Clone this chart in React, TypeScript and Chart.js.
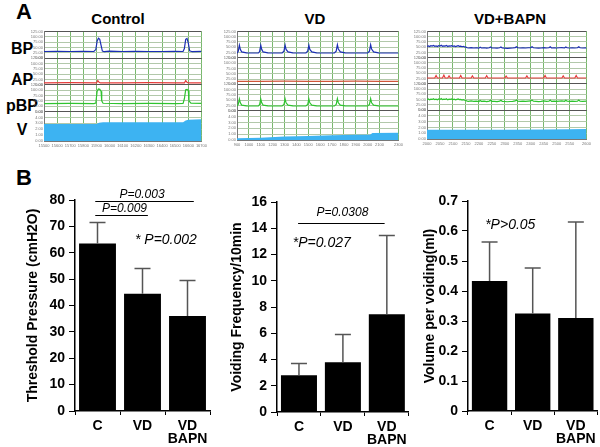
import React, { useEffect, useRef } from "react";
import { Chart, registerables } from "chart.js";
Chart.register(...registerables);

// ---------- Panel A trace data ([time, value]) ----------
const ctrlBP = [[0,31],[10,32],[20,31],[30,32],[38,31],[39.5,40],[40.5,80],[41.5,93],[42.5,88],[43.5,60],[44.5,33],[46,30],[50,33],[60,31],[70,32],[80,31],[90,31],[100,32],[106,31],[107,45],[108,88],[109,92],[110,70],[111,34],[113,30],[120,32]];
const ctrlAP = [[0,9],[20,10],[40,9],[41,20],[42,12],[43,9],[60,9],[80,10],[100,9],[107,9],[108,20],[109,12],[110,9],[120,9]];
const ctrlPBP = [[0,37],[20,38],[38,37],[39.5,40],[40.5,95],[41.5,106],[42.5,104],[43.5,95],[44,50],[45,39],[60,37],[80,38],[100,37],[106,38],[107,60],[108,102],[109,104],[110,98],[110.5,50],[112,40],[120,38]];
const ctrlV = [[0,2.9],[40,2.9],[42,3.1],[45,3.2],[106,3.2],[108,3.5],[110,3.6],[120,3.7]];

const vdBP = [[0,23],[1,30],[2,60],[2.8,40],[4,28],[8,24],[18,23],[19,30],[20,60],[20.8,40],[22,28],[26,24],[38,23],[39.5,32],[40.5,60],[41.3,40],[43,28],[47,24],[58,23],[59.5,32],[60.5,60],[61.3,40],[63,28],[67,24],[82,23],[83.5,32],[84.5,62],[85.3,42],[87,28],[91,24],[110,23],[111.5,32],[112.5,62],[113.3,42],[115,28],[119,24],[136,23]];
const vdAP = [[0,14],[20,14],[40,15],[60,14],[80,14],[100,15],[120,14],[136,14]];
const vdPBP = [[0,23],[1,30],[2,56],[2.8,38],[4,27],[8,24],[18,23],[19,30],[20,56],[20.8,38],[22,27],[26,24],[38,23],[39.5,30],[40.5,56],[41.3,38],[43,27],[47,24],[58,23],[59.5,30],[60.5,56],[61.3,38],[63,27],[67,24],[82,23],[83.5,30],[84.5,58],[85.3,38],[87,27],[91,24],[110,23],[111.5,30],[112.5,58],[113.3,38],[115,27],[119,24],[136,23]];
const vdV = [[0,0.3],[20,0.4],[40,0.6],[60,0.7],[80,0.8],[100,0.9],[112,0.9],[114,1.2],[136,1.25]];

const bapnBP = [[0,54],[1,56],[2,53],[3,57],[4,55],[5,58],[6,54],[7,56],[8,53],[9,57],[10,55],[11,59],[12,54],[13,56],[14,55],[15,58],[16,53],[17,56],[18,55],[19,57],[20,54],[21,56],[22,53],[23,55],[24,57],[25,54],[26,55],[27,52],[28,54],[29,51],[30,50],[31,47],[32,46],[34,48],[36,46],[38,47],[40,45],[41,50],[42,46],[44,47],[46,45],[48,47],[49,51],[50,46],[52,46],[54,45],[56,47],[57,51],[58,46],[60,45],[62,44],[64,45],[66,46],[68,48],[69,52],[70,47],[72,46],[74,47],[76,46],[78,47],[80,48],[81,52],[82,47],[84,46],[86,45],[88,46],[90,48],[92,46],[94,47],[95,52],[96,46],[98,47],[100,46],[102,47],[104,48],[106,46],[107,51],[108,47],[110,46],[112,47],[114,46],[116,47],[117,52],[118,47],[120,46],[123,47]];
const bapnAP = [[0,28],[6,28],[7,40],[8,28],[12,29],[13,42],[14,28],[16,28],[17,38],[18,28],[25,28],[26,40],[27,28],[34,28],[35,38],[36,28],[45,28],[46,39],[47,28],[60,28],[61,37],[62,28],[76,28],[77,38],[78,28],[90,29],[91,40],[92,28],[104,28],[105,38],[106,28],[114,28],[115,40],[116,28],[123,28]];
const bapnPBP = [[0,50],[1,53],[2,49],[3,52],[4,51],[5,54],[6,50],[7,52],[8,49],[9,53],[10,51],[11,55],[12,50],[13,52],[14,51],[15,54],[16,49],[17,52],[18,51],[19,53],[20,50],[21,52],[22,49],[23,51],[24,53],[25,50],[26,51],[27,48],[28,50],[29,47],[30,46],[31,43],[32,42],[34,44],[36,42],[38,43],[40,41],[41,46],[42,42],[44,43],[46,41],[48,43],[49,47],[50,42],[52,42],[54,41],[56,43],[57,47],[58,42],[60,41],[62,40],[64,41],[66,42],[68,44],[69,48],[70,43],[72,42],[74,43],[76,42],[78,43],[80,44],[81,48],[82,43],[84,42],[86,41],[88,42],[90,44],[92,42],[94,43],[95,48],[96,42],[98,43],[100,42],[102,43],[104,44],[106,42],[107,47],[108,43],[110,42],[112,43],[114,42],[116,43],[117,48],[118,43],[120,42],[123,43]];
const bapnV = [[0,1.6],[30,1.6],[60,1.6],[90,1.65],[110,1.7],[123,1.72]];

const ctrlXTicks = ["15500","15600","15700","15800","15900","16000","16100","16200","16300","16400","16500","16600","16700"];
const vdXTicks = ["900","1000","1100","1200","1300","1400","1500","1600","1700","1800","1900","2000","2100","2200","2300"];
const bapnXTicks = ["2000","2050","2100","2150","2200","2250","2300","2350","2400","2450","2500","2550","2600"];

// ---------- Panel B data ----------
const groups = ["C", "VD", ["VD", "BAPN"]];
const threshold = [63.5, 44.5, 36];
const thresholdSD = [8, 9.5, 13.5];
const frequency = [2.8, 3.8, 7.45];
const frequencySD = [0.9, 2.1, 6.0];
const volume = [0.433, 0.325, 0.31];
const volumeSD = [0.13, 0.152, 0.32];

const FONT = "'Liberation Sans', Arial, sans-serif";
const toXY = (a: number[][]) => a.map(([x, y]) => ({ x, y }));

function rowScale(max: number, step: number, weight: number) {
  return {
    type: "linear", position: "left", stack: "rows", stackWeight: weight,
    min: 0, max,
    ticks: { stepSize: step, autoSkip: false, font: { size: 4, family: FONT }, color: "#777", padding: 1,
      callback: (v: any) => Number(v).toFixed(2) },
    grid: { drawTicks: false, lineWidth: 1,
      color: (c: any) => (c.tick && (c.tick.value === 0 || c.tick.value === max)) ? "#555" : "#b2c8aa" },
    border: { display: true, color: "#777" },
    afterFit: (s: any) => { s.width = 14; },
  };
}

function traceConfig(bp: number[][], ap: number[][], pbp: number[][], v: number[][], xmax: number, xticks: string[], apColor: string) {
  return {
    type: "line",
    data: {
      datasets: [
        { data: toXY(v), yAxisID: "yV", borderWidth: 0, pointRadius: 0, fill: "origin", backgroundColor: "#3db3f2", borderColor: "#3db3f2" },
        { data: toXY(pbp), yAxisID: "yP", borderWidth: 1.2, pointRadius: 0, borderColor: "#2ec42e" },
        { data: toXY(ap), yAxisID: "yA", borderWidth: 1.2, pointRadius: 0, borderColor: apColor },
        { data: toXY(bp), yAxisID: "yB", borderWidth: 1.2, pointRadius: 0, borderColor: "#1c2eb4" },
      ],
    },
    options: {
      animation: false, responsive: false, maintainAspectRatio: false,
      layout: { padding: { top: 2, right: 2, left: 0, bottom: 0 } },
      plugins: { legend: { display: false }, tooltip: { enabled: false } },
      scales: {
        x: { type: "linear", min: 0, max: xmax,
          ticks: { stepSize: 10, autoSkip: false, font: { size: 4, family: FONT }, color: "#777", padding: 2, maxRotation: 0,
            callback: (val: any) => xticks[Math.round(Number(val) / 10)] ?? "" },
          grid: { color: "#78b86c", drawTicks: false },
          border: { display: true, color: "#777" },
          afterFit: (s: any) => { s.height = 9; } },
        yV: rowScale(5, 1, 1.1),
        yP: rowScale(125, 25, 1),
        yA: rowScale(125, 25, 1),
        yB: rowScale(125, 25, 1),
      },
    },
  };
}

// ---------- bar chart plugins ----------
const errorBars = {
  id: "errbars",
  afterDatasetsDraw(chart: any, _a: any, opts: any) {
    const { ctx } = chart;
    const y = chart.scales.y;
    const meta = chart.getDatasetMeta(0);
    const vals = chart.data.datasets[0].data;
    ctx.save();
    ctx.strokeStyle = "#555";
    ctx.lineWidth = 1.5;
    meta.data.forEach((bar: any, i: number) => {
      const top = y.getPixelForValue(vals[i] + opts.sd[i]);
      ctx.beginPath();
      ctx.moveTo(bar.x, bar.y);
      ctx.lineTo(bar.x, top);
      ctx.moveTo(bar.x - 8, top);
      ctx.lineTo(bar.x + 8, top);
      ctx.stroke();
    });
    ctx.restore();
  },
};

const annot = {
  id: "annot",
  afterDraw(chart: any, _a: any, opts: any) {
    const { ctx } = chart;
    const { x, y } = chart.scales;
    ctx.save();
    ctx.strokeStyle = "#000";
    ctx.lineWidth = 1;
    (opts.lines || []).forEach((l: any) => {
      const py = Math.round(y.getPixelForValue(l.y)) + 0.5;
      ctx.beginPath();
      ctx.moveTo(x.getPixelForValue(l.x1), py);
      ctx.lineTo(x.getPixelForValue(l.x2), py);
      ctx.stroke();
    });
    ctx.fillStyle = "#000";
    ctx.textAlign = "center";
    ctx.textBaseline = "middle";
    (opts.texts || []).forEach((t: any) => {
      ctx.font = `italic ${t.size}px ${FONT}`;
      ctx.fillText(t.text, x.getPixelForValue(t.x), y.getPixelForValue(t.y));
    });
    ctx.restore();
  },
};

function barConfig(values: number[], sd: number[], max: number, step: number, title: string,
  padLeft: number, yWidth: number, padTop: number, xHeight: number, ann: any) {
  return {
    type: "bar",
    data: { labels: groups, datasets: [{ data: values, backgroundColor: "#000", borderWidth: 0, barPercentage: 0.82, categoryPercentage: 1 }] },
    options: {
      animation: false, responsive: false, maintainAspectRatio: false,
      layout: { padding: { left: padLeft, top: padTop, right: 2, bottom: 0 } },
      plugins: { legend: { display: false }, tooltip: { enabled: false }, errbars: { sd }, annot: ann },
      scales: {
        x: {
          ticks: { font: { size: 14, weight: "bold", family: FONT, lineHeight: 0.95 }, color: "#000", padding: 4, maxRotation: 0 },
          grid: { drawOnChartArea: false, tickLength: 4, color: "#000" },
          border: { color: "#000", width: 1.5 },
          afterFit: (s: any) => { s.height = xHeight; },
        },
        y: {
          min: 0, max,
          ticks: { stepSize: step, font: { size: 14, weight: "bold", family: FONT }, color: "#000", padding: 4 },
          grid: { drawOnChartArea: false, tickLength: 6, color: "#000" },
          border: { color: "#000", width: 1.5 },
          title: { display: true, text: title, font: { size: 14, weight: "bold", family: FONT }, color: "#000", padding: { top: 0, bottom: 0 } },
          afterFit: (s: any) => { s.width = yWidth; },
        },
      },
    },
    plugins: [errorBars, annot],
  };
}

function ChartBox({ config, left, top, width, height }: any) {
  const ref = useRef<HTMLCanvasElement>(null);
  useEffect(() => {
    const chart = new Chart(ref.current as HTMLCanvasElement, config);
    return () => chart.destroy();
  }, []);
  return (
    <div style={{ position: "absolute", left, top, width, height }}>
      <canvas ref={ref} width={width} height={height} style={{ width, height, display: "block" }} />
    </div>
  );
}

function Label({ text, x, y, size, italic }: any) {
  return (
    <div style={{ position: "absolute", left: x, top: y, transform: "translate(-50%,-50%)", fontFamily: FONT,
      fontWeight: "bold", fontSize: size, fontStyle: italic ? "italic" : "normal", whiteSpace: "nowrap", lineHeight: 1, color: "#000" }}>
      {text}
    </div>
  );
}

export default function App() {
  const cfgCtrl = traceConfig(ctrlBP, ctrlAP, ctrlPBP, ctrlV, 120, ctrlXTicks, "#e43a3a");
  const cfgVD = traceConfig(vdBP, vdAP, vdPBP, vdV, 136, vdXTicks, "#d0553a");
  const cfgBapn = traceConfig(bapnBP, bapnAP, bapnPBP, bapnV, 123, bapnXTicks, "#e43a3a");

  const cfgB1 = barConfig(threshold, thresholdSD, 80, 10, "Threshold Pressure (cmH2O)", 25, 50, 15, 36, {
    lines: [{ x1: -0.05, x2: 2.14, y: 79.6 }, { x1: -0.05, x2: 1.12, y: 74.3 }],
    texts: [{ text: "P=0.003", x: 0.99, y: 82.2, size: 12 }, { text: "P=0.009", x: 0.6, y: 76.8, size: 12 },
      { text: "* P=0.002", x: 1.52, y: 64.8, size: 14 }],
  });
  const cfgB2 = barConfig(frequency, frequencySD, 16, 2, "Voiding Frequency/10min", 14, 48, 17, 35, {
    lines: [{ x1: -0.02, x2: 1.95, y: 14.4 }],
    texts: [{ text: "P=0.0308", x: 0.99, y: 15.2, size: 12 }, { text: "*P=0.027", x: 0.52, y: 12.9, size: 14 }],
  });
  const cfgB3 = barConfig(volume, volumeSD, 0.7, 0.1, "Volume per voiding(ml)", 12, 46, 16, 36, {
    lines: [],
    texts: [{ text: "*P>0.05", x: 0.48, y: 0.62, size: 14 }],
  });

  return (
    <div style={{ position: "absolute", left: 0, top: 0, width: 600, height: 447, background: "#fff", overflow: "hidden" }}>
      <Label text="A" x={24} y={12} size={22} />
      <Label text="B" x={24} y={178} size={22} />
      <Label text="Control" x={118} y={18} size={15} />
      <Label text="VD" x={315} y={18} size={15} />
      <Label text="VD+BAPN" x={510} y={18} size={15} />
      <Label text="BP" x={22} y={49} size={16} />
      <Label text="AP" x={22} y={80} size={16} />
      <Label text="pBP" x={22} y={106} size={16} />
      <Label text="V" x={22} y={130} size={16} />
      <ChartBox config={cfgCtrl} left={30} top={28} width={179} height={122} />
      <ChartBox config={cfgVD} left={223} top={28} width={182} height={121} />
      <ChartBox config={cfgBapn} left={413} top={28} width={180} height={120} />
      <ChartBox config={cfgB1} left={0} top={185} width={212} height={262} />
      <ChartBox config={cfgB2} left={215} top={185} width={196} height={262} />
      <ChartBox config={cfgB3} left={410} top={185} width={190} height={262} />
    </div>
  );
}
